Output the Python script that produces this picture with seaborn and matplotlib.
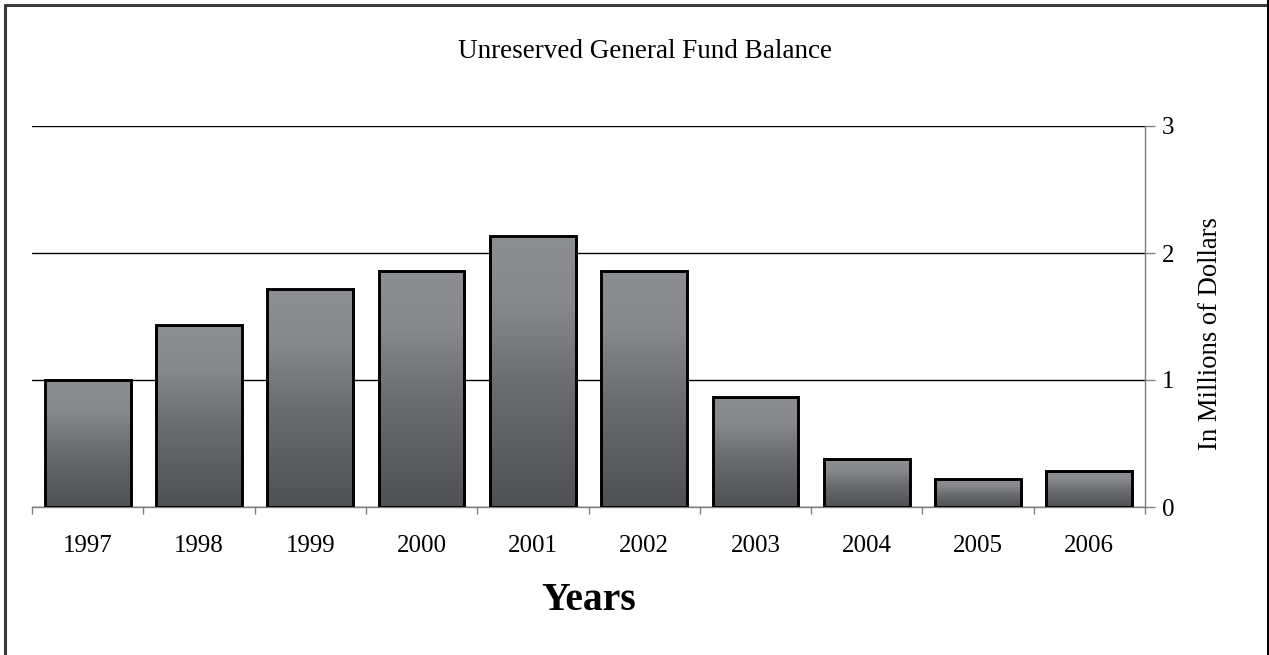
import numpy as np
import pandas as pd
import matplotlib
matplotlib.use("Agg")
import matplotlib.pyplot as plt
from matplotlib.lines import Line2D
from matplotlib.colors import LinearSegmentedColormap
import seaborn as sns

# data (millions of dollars)
years = ["1997", "1998", "1999", "2000", "2001", "2002", "2003", "2004", "2005", "2006"]
balance = [1.00, 1.43, 1.72, 1.86, 2.13, 1.86, 0.87, 0.38, 0.22, 0.28]
y_ticks = [0, 1, 2, 3]

sns.set_style("white")
plt.rcParams['font.family'] = ['Liberation Serif', 'DejaVu Serif']
plt.rcParams['text.color'] = 'black'
plt.rcParams['axes.labelcolor'] = 'black'

df = pd.DataFrame({"year": years, "balance": balance})

fig = plt.figure(figsize=(12.69, 6.55), dpi=100)
ax = fig.add_axes([32 / 1269, 1 - 507 / 655, (1145 - 32) / 1269, (507 - 126) / 655])

sns.barplot(data=df, x="year", y="balance", color="#707175", width=0.77,
            edgecolor="black", linewidth=2.1, ax=ax)

# gradient fill per bar (light on top, dark at bottom)
grad_cmap = LinearSegmentedColormap.from_list(
    "bar", [(0, "#4f5054"), (0.45, "#6b6c70"), (0.75, "#87888c"), (1, "#8d8e92")])
grad = np.linspace(0, 1, 256).reshape(-1, 1)
ax.set_xlim(-0.5, len(years) - 0.5)
ax.set_ylim(0, 3)
for p in ax.patches:
    x0, y0 = p.get_x(), p.get_y()
    w, h = p.get_width(), p.get_height()
    im = ax.imshow(grad, extent=[x0, x0 + w, y0, y0 + h], origin="lower",
                   aspect="auto", cmap=grad_cmap, zorder=2)
    im.set_clip_path(p)
    p.set_facecolor("none")
    p.set_zorder(3)
ax.set_xlim(-0.5, len(years) - 0.5)
ax.set_ylim(0, 3)

# gridlines
ax.set_yticks(y_ticks)
ax.yaxis.grid(True, color="black", linewidth=1)
ax.set_axisbelow(True)

# right-hand value axis
ax.yaxis.tick_right()
ax.yaxis.set_label_position("right")
ax.tick_params(axis="y", which="major", direction="out", length=7, width=1,
               color="#808080", pad=5, labelsize=18, labelcolor="black", right=True, left=False)
ax.set_ylabel("In Millions of Dollars", fontsize=19.2)
ax.yaxis.set_label_coords(1.048, 0.454)

# category ticks between bars
ax.set_xticks(np.arange(-0.5, len(years)), minor=True)
ax.tick_params(axis="x", which="minor", direction="out", length=5, width=1, color="#808080", bottom=True)
ax.tick_params(axis="x", which="major", length=0, pad=20, labelsize=18, labelcolor="black")
ax.set_xlabel("Years", fontsize=28.5, fontweight="bold", labelpad=18)

for side in ["top", "left"]:
    ax.spines[side].set_visible(False)
for side in ["bottom", "right"]:
    ax.spines[side].set_color("#808080")
    ax.spines[side].set_linewidth(1)

fig.text(645 / 1269, 1 - 51 / 655, "Unreserved General Fund Balance",
         ha="center", va="center", fontsize=19.5)

# chart frame
fig.add_artist(Line2D([5 / 1269, 5 / 1269], [0, 1 - 5 / 655], transform=fig.transFigure,
                      color="#3a3a3a", linewidth=2.2))
fig.add_artist(Line2D([5 / 1269, 1], [1 - 5 / 655, 1 - 5 / 655], transform=fig.transFigure,
                      color="#3a3a3a", linewidth=2.2))
fig.add_artist(Line2D([1267.5 / 1269, 1267.5 / 1269], [0, 1], transform=fig.transFigure,
                      color="black", linewidth=2.2))

plt.savefig("out.png", dpi=100)
